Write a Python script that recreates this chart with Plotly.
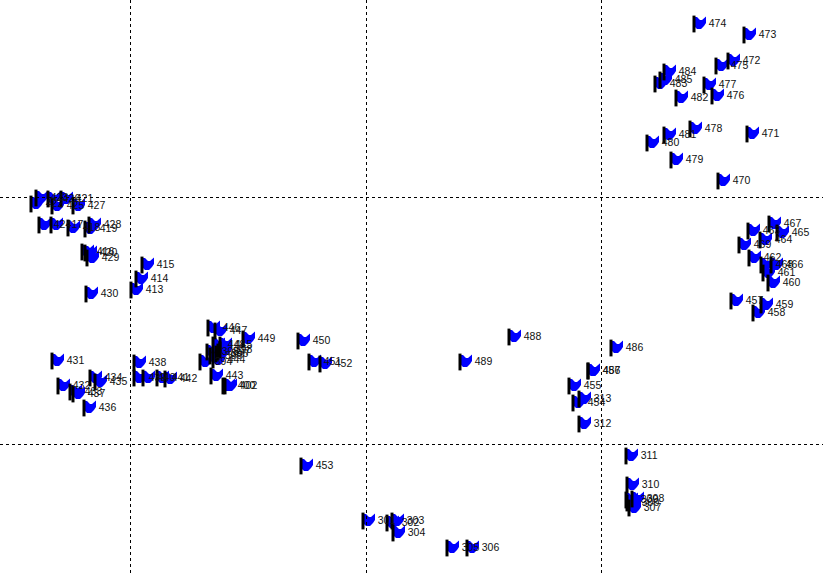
import plotly.graph_objects as go

# station labels and positions (pole x, pole centre y)
labels_a = ["474", "473", "472", "475", "484", "485", "483", "477", "482", "476", "478", "481", "480", "471", "479", "470"]
x_a = [694, 744, 728, 716, 664, 660, 655, 704, 676, 712, 690, 664, 647, 747, 671, 718]
y_a = [24, 35, 61, 66, 72, 80, 84, 85, 98, 96, 129, 135, 143, 134, 160, 181]

labels_b = ["467", "465", "463", "464", "469", "462", "468", "466", "461", "460", "457", "459", "458"]
x_b = [769, 777, 748, 760, 739, 749, 761, 771, 763, 768, 731, 761, 753]
y_b = [224, 233, 231, 240, 245, 258, 265, 265, 273, 283, 301, 305, 313]

labels_c = ["486", "456", "487", "455", "313", "454", "312", "488", "489"]
x_c = [611, 588, 588, 569, 579, 573, 579, 509, 460]
y_c = [348, 371, 371, 386, 399, 403, 424, 337, 362]

labels_d = ["311", "310", "309", "308", "300", "307", "453", "301", "303", "302", "304", "305", "306"]
x_d = [626, 627, 626, 632, 627, 629, 301, 363, 392, 387, 393, 447, 467]
y_d = [456, 485, 500, 499, 503, 508, 466, 521, 521, 523, 533, 548, 548]

labels_e = ["450", "451", "452", "449", "446", "447", "448", "445", "398", "397", "396", "399", "395", "394", "444", "443", "400", "402"]
x_e = [298, 309, 320, 243, 208, 215, 213, 220, 220, 218, 216, 210, 207, 200, 213, 211, 223, 225]
y_e = [341, 362, 364, 339, 328, 331, 345, 345, 350, 352, 354, 356, 352, 362, 360, 376, 386, 386]

labels_f = ["438", "439", "440", "441", "442", "431", "432", "433", "437", "434", "435", "436"]
x_f = [134, 134, 143, 157, 165, 52, 58, 70, 73, 90, 95, 84]
y_f = [363, 378, 378, 378, 379, 361, 386, 392, 394, 378, 382, 408]

labels_g = ["422", "423", "426", "425", "421", "427", "424", "417", "418", "419", "428", "416", "420", "429", "415", "414", "413", "430"]
x_g = [31, 36, 48, 52, 61, 73, 39, 51, 68, 85, 89, 82, 85, 87, 142, 136, 131, 86]
y_g = [204, 198, 199, 206, 199, 206, 225, 225, 228, 229, 225, 252, 253, 258, 265, 279, 290, 294]

grid_x = [130, 366, 601]
grid_y = [197, 444]

labels = labels_a + labels_b + labels_c + labels_d + labels_e + labels_f + labels_g
xs = x_a + x_b + x_c + x_d + x_e + x_f + x_g
ys = y_a + y_b + y_c + y_d + y_e + y_f + y_g

# flag outline in pixels from the anchor, y up
FLAG = "M 1 7 L 3 7 L 6 4 L 8 4 L 12 7.5 L 12 1 L 10 -2 L 7 -5 L 3 -5 L 1 -3 Z"

shapes = [
    dict(
        type="path", path=FLAG, xref="x", yref="y",
        xsizemode="pixel", ysizemode="pixel", xanchor=x, yanchor=y,
        fillcolor="#0000ff", line=dict(width=0), layer="below",
    )
    for x, y in zip(xs, ys)
]

fig = go.Figure()
fig.add_trace(go.Scatter(
    x=xs, y=ys, mode="markers",
    marker=dict(symbol="line-ns", size=12, line=dict(color="black", width=3)),
    hoverinfo="skip",
))
fig.add_trace(go.Scatter(
    x=xs, y=ys, mode="markers+text", text=labels, textposition="middle right",
    textfont=dict(family="Liberation Sans", size=10.5, color="#111111"),
    marker=dict(size=22, opacity=0),
))

fig.update_layout(
    width=823, height=574,
    margin=dict(l=0, r=0, t=0, b=0),
    paper_bgcolor="white", plot_bgcolor="white",
    showlegend=False,
    shapes=shapes,
    xaxis=dict(range=[0, 823], tickvals=grid_x, showticklabels=False, ticks="",
               showline=False, zeroline=False, showgrid=True,
               gridcolor="black", griddash="3px,3px", gridwidth=1),
    yaxis=dict(range=[574, 0], tickvals=grid_y, showticklabels=False, ticks="",
               showline=False, zeroline=False, showgrid=True,
               gridcolor="black", griddash="3px,3px", gridwidth=1),
)

fig.write_html("out.html", config=dict(displayModeBar=False), post_script="document.body.style.margin='0';")
